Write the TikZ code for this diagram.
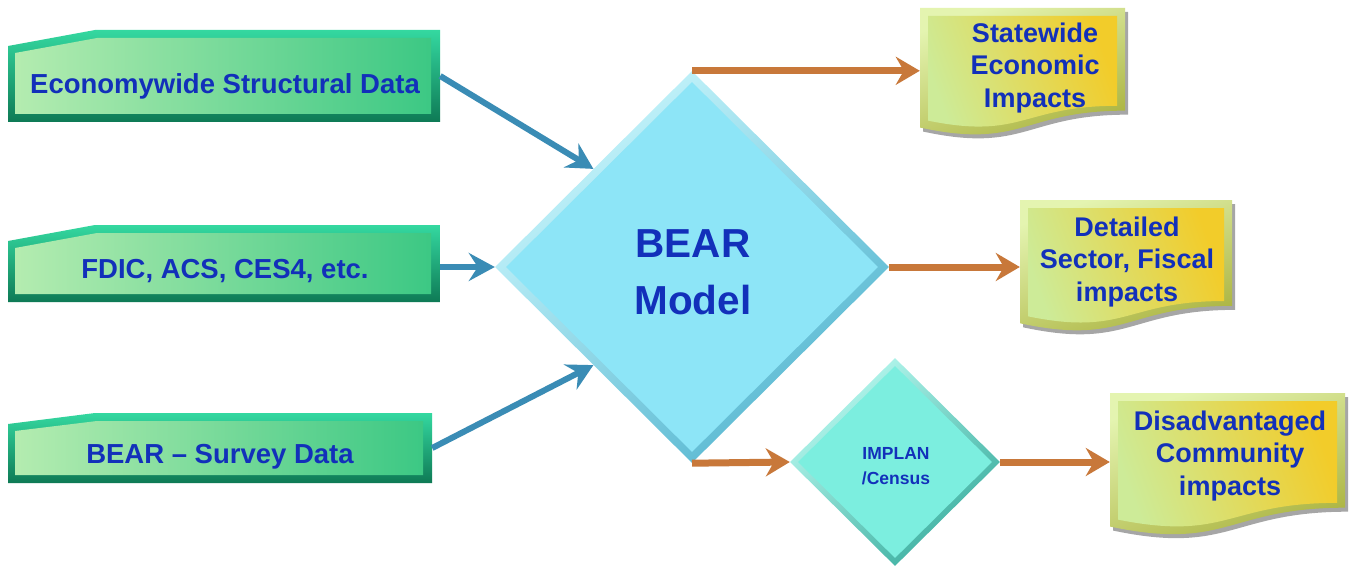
\documentclass[tikz,border=0pt]{standalone}
\usepackage{fontspec}
\setmainfont{Liberation Sans}
\usetikzlibrary{shapes.geometric,arrows.meta}
\definecolor{txtblue}{HTML}{1230BA}
\definecolor{grTop}{HTML}{34D8A0}
\definecolor{grBot}{HTML}{0E7A55}
\definecolor{grLight}{HTML}{B4ECB0}
\definecolor{grMid}{HTML}{3CC884}
\definecolor{cyFace}{HTML}{8DE5F7}
\definecolor{cyLight}{HTML}{CAF7FD}
\definecolor{cyDark}{HTML}{55B6D0}
\definecolor{aqFace}{HTML}{7CEEDF}
\definecolor{aqLight}{HTML}{BAFAF1}
\definecolor{aqDark}{HTML}{3AAE9F}
\definecolor{ylLight}{HTML}{CDEB98}
\definecolor{ylDark}{HTML}{F2CC2A}
\definecolor{ylEdgeA}{HTML}{E4F4B0}
\definecolor{ylEdgeB}{HTML}{A8B03A}
\definecolor{arBlue}{HTML}{3A8CB5}
\definecolor{arOrange}{HTML}{C8783A}
\tikzset{
  area/.style={inner sep=0pt,draw=none},
  intxt/.style={text=txtblue,font={\fontsize{27.5}{32}\selectfont\bfseries}},
  doctxt/.style={text=txtblue,align=center,font={\fontsize{27}{32.5}\selectfont\bfseries}},
  boxedge/.style={top color=grTop,bottom color=grBot},
  boxface/.style={left color=grLight,right color=grMid},
  docedge/.style={top color=ylEdgeA,bottom color=ylEdgeB,shading angle=20},
  docface/.style={left color=ylLight,right color=ylDark,shading angle=110},
  blueflow/.style={draw=arBlue,line width=6pt,-{Stealth[length=26pt,width=28pt,inset=9pt]}},
  orangeflow/.style={draw=arOrange,line width=7pt,-{Stealth[length=24pt,width=28pt,inset=8pt]}},
}
\newcommand\inbox[6]{% name, yLeftTop, yTop, yBot, xRight, text y
  \shade[boxedge] (8,#2) -- (95,#3) -- (#5,#3) -- (#5,#4) -- (8,#4) -- cycle;
  \pgfmathsetmacro\ibA{#2+7}\pgfmathsetmacro\ibB{#3+8}\pgfmathsetmacro\ibC{#4-8}\pgfmathsetmacro\ibD{#5-9}
  \shade[boxface] (15,\ibA) -- (97,\ibB) -- (\ibD,\ibB) -- (\ibD,\ibC) -- (15,\ibC) -- cycle;
  \pgfmathsetmacro\ibW{#5-8}\pgfmathsetmacro\ibH{#4-#3}
  \pgfmathsetmacro\ibX{(#5+8)/2}\pgfmathsetmacro\ibY{(#4+#3)/2}
  \node[area,minimum width=\ibW pt,minimum height=\ibH pt] (#1) at (\ibX,\ibY) {};
}
\newcommand\mydoc[5]{% x0, y0, x1, h, name
  \pgfmathsetmacro\dcW{#3-#1}\pgfmathsetmacro\dcM{(#1+#3)/2}
  \pgfmathsetmacro\dcR{#2+0.802*#4}\pgfmathsetmacro\dcC{#2+1.107*#4}\pgfmathsetmacro\dcL{#2+0.934*#4}
  \fill[black,opacity=0.35] (#1+3,#2+4) -- (#3+3,#2+4) -- (#3+3,\dcR+4) .. controls (\dcM+3,\dcR+4) and (\dcM+3,\dcC+4) .. (#1+3,\dcL+4) -- cycle;
  \shade[docedge] (#1,#2) -- (#3,#2) -- (#3,\dcR) .. controls (\dcM,\dcR) and (\dcM,\dcC) .. (#1,\dcL) -- cycle;
  \pgfmathsetmacro\dcRi{#2+8+0.802*(#4-16)}\pgfmathsetmacro\dcCi{#2+8+1.107*(#4-16)}\pgfmathsetmacro\dcLi{#2+8+0.934*(#4-16)}
  \shade[docface] (#1+8,#2+8) -- (#3-8,#2+8) -- (#3-8,\dcRi) .. controls (\dcM,\dcRi) and (\dcM,\dcCi) .. (#1+8,\dcLi) -- cycle;
  \pgfmathsetmacro\dcY{#2+#4/2}
  \node[area,minimum width=\dcW pt,minimum height=#4 pt] (#5) at (\dcM,\dcY) {};
}
\begin{document}
\begin{tikzpicture}[x=1pt,y=-1pt]
\useasboundingbox[fill=white] (0,0) rectangle (1351,567);
% input boxes
\inbox{econ}{46}{30}{122}{440}{86}
\node[intxt] (econtxt) at (225,86) {Economywide Structural Data};
\inbox{fdic}{241}{225}{302}{440}{271}
\node[intxt] (fdictxt) at (225,271) {FDIC, ACS, CES4, etc.};
\inbox{survey}{424}{413}{483}{432}{457}
\node[intxt] (surveytxt) at (220,457) {BEAR -- Survey Data};
% big diamond
\node[diamond,aspect=1,minimum width=394pt,minimum height=392pt,inner sep=0pt,
      top color=cyLight,bottom color=cyDark,shading angle=40] (bear) at (692,267) {};
\node[diamond,aspect=1,minimum width=372pt,minimum height=370pt,inner sep=0pt,fill=cyFace] (bearface) at (692,267) {};
\node[text=txtblue,align=center,font={\fontsize{40.5}{57}\selectfont\bfseries}] (beartxt) at (693,272) {BEAR\\Model};
% small diamond
\node[diamond,aspect=1,minimum width=210pt,minimum height=208pt,inner sep=0pt,
      top color=aqLight,bottom color=aqDark,shading angle=40] (implan) at (895,462) {};
\node[diamond,aspect=1,minimum width=194pt,minimum height=192pt,inner sep=0pt,fill=aqFace] (implanface) at (895,462) {};
\node[text=txtblue,align=center,font={\fontsize{17.5}{25}\selectfont\bfseries}] (implantxt) at (896,466) {IMPLAN\\/Census};
% output documents
\mydoc{920}{8}{1125}{128}{state}
\node[doctxt] (statetxt) at (1035,68) {Statewide\\Economic\\Impacts};
\mydoc{1020}{200}{1232}{132}{detail}
\node[doctxt] (detailtxt) at (1127,262) {Detailed\\Sector, Fiscal\\impacts};
\mydoc{1110}{393}{1345}{143}{dis}
\node[doctxt] (distxt) at (1230,456) {Disadvantaged\\Community\\impacts};
% connectors
\draw[blueflow] (econ.east) -- (bear.north west);
\draw[blueflow] (fdic.east |- bear.west) -- (bear.west);
\draw[blueflow] (survey.east) -- (bear.south west);
\draw[orangeflow] (bear.north) -- (bear.north -| state.west);
\draw[orangeflow] (bear.east) -- (bear.east -| detail.west);
\draw[orangeflow] (bear.south) -- (implan.west);
\draw[orangeflow] (implan.east) -- (implan.east -| dis.west);
\end{tikzpicture}
\end{document}
